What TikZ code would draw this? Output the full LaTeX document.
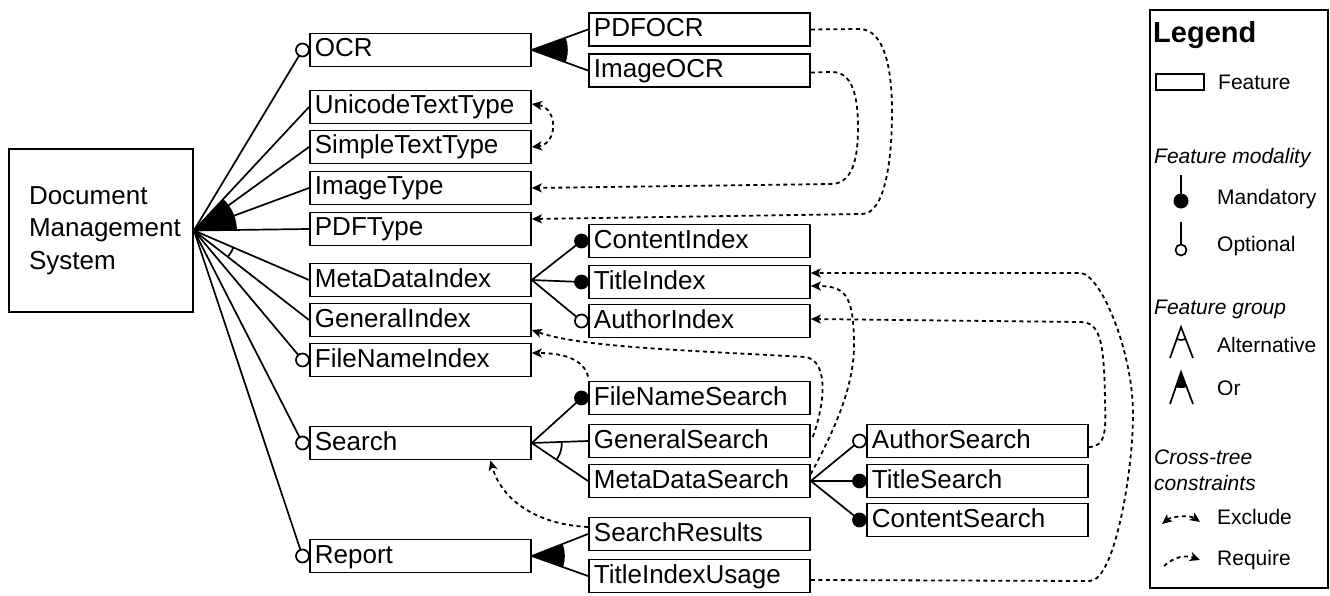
\documentclass[tikz,border=0pt]{standalone}
\usepackage{fontspec}
\setmainfont{Liberation Sans}
\usetikzlibrary{arrows.meta}

\tikzset{
  feat/.style={draw, line width=1.8pt, rectangle, anchor=west, text width=211pt,
    align=left, inner xsep=5pt, inner ysep=0pt, minimum height=33pt,
    text height=19pt, text depth=5pt, font=\fontsize{26}{31}\selectfont},
  edge/.style={line width=1.7pt},
  ctc/.style={line width=1.8pt, dash pattern=on 4pt off 3.5pt},
  tip/.tip={Stealth[length=10pt,width=9pt,inset=2.5pt]},
  req/.style={ctc, -tip},
  excl/.style={ctc, tip-tip},
  lgd/.style={anchor=west, inner sep=0pt, font=\fontsize{21}{26}\selectfont},
  lgdhead/.style={lgd, align=left, font=\itshape\fontsize{21}{26}\selectfont},
}

\begin{document}
\begin{tikzpicture}[x=1pt,y=-1pt]
  \useasboundingbox (0,0) rectangle (1330,596);
  %% The root feature
  \node[draw, line width=1.8pt, text width=164pt, inner xsep=10pt, minimum height=163pt,
        align=left, font=\fontsize{26}{32.5}\selectfont] (dms) at (101,230.5)
        {\hspace*{10pt}Document\\\hspace*{10pt}Management\\\hspace*{10pt}System};
  %% First level features
  \node[feat] (ocr)     at (309,50)  {OCR};
  \node[feat] (unicode) at (309,107) {UnicodeTextType};
  \node[feat] (simple)  at (309,147) {SimpleTextType};
  \node[feat] (imgtype) at (309,188) {ImageType};
  \node[feat] (pdftype) at (309,229) {PDFType};
  \node[feat] (metaidx) at (309,280) {MetaDataIndex};
  \node[feat] (genidx)  at (309,320) {GeneralIndex};
  \node[feat] (fnidx)   at (309,360) {FileNameIndex};
  \node[feat] (search)  at (309,443) {Search};
  \node[feat] (report)  at (309,556) {Report};
  %% Second level features
  \node[feat] (pdfocr)     at (588,29.5) {PDFOCR};
  \node[feat] (imgocr)     at (588,70.5) {ImageOCR};
  \node[feat] (contidx)    at (588,241)  {ContentIndex};
  \node[feat] (titleidx)   at (588,282)  {TitleIndex};
  \node[feat] (authidx)    at (588,321)  {AuthorIndex};
  \node[feat] (fnsearch)   at (588,398)  {FileNameSearch};
  \node[feat] (gensearch)  at (588,441)  {GeneralSearch};
  \node[feat] (metasearch) at (588,481)  {MetaDataSearch};
  \node[feat] (results)    at (588,534)  {SearchResults};
  \node[feat] (tiusage)    at (588,576)  {TitleIndexUsage};
  %% Third level features
  \node[feat] (authsearch)  at (866,441) {AuthorSearch};
  \node[feat] (titlesearch) at (866,481) {TitleSearch};
  \node[feat] (contsearch)  at (866,520) {ContentSearch};

  %% Invisibly defining the hooks of the modality circles
  \foreach \f in {ocr,fnidx,search,report,contidx,titleidx,authidx,
                  fnsearch,authsearch,titlesearch,contsearch}
    \path ([xshift=-6.5pt]\f.west) coordinate (\f-c);

  %% Edges from the root
  \foreach \f in {unicode,simple,imgtype,pdftype,metaidx,genidx}
    \draw[edge] (dms.east) -- (\f.west);
  \foreach \f in {ocr,fnidx,search,report}
    \draw[edge] (dms.east) -- (\f-c);
  % or group
  \begin{scope}
    \clip (dms.east) -- (unicode.west) -- (pdftype.west) -- cycle;
    \fill (dms.east) circle (43pt);
  \end{scope}
  % alternative group
  \begin{scope}
    \clip (dms.east) -- (metaidx.west) -- (genidx.west) -- cycle;
    \draw[edge] (dms.east) circle (43pt);
  \end{scope}

  %% Edges below OCR
  \draw[edge] (ocr.east) -- (pdfocr.west);
  \draw[edge] (ocr.east) -- (imgocr.west);
  \begin{scope}
    \clip (ocr.east) -- (pdfocr.west) -- (imgocr.west) -- cycle;
    \fill (ocr.east) circle (36pt);
  \end{scope}

  %% Edges below MetaDataIndex
  \foreach \f in {contidx,titleidx,authidx}
    \draw[edge] (metaidx.east) -- (\f-c);

  %% Edges below Search
  \draw[edge] (search.east) -- (fnsearch-c);
  \draw[edge] (search.east) -- (gensearch.west);
  \draw[edge] (search.east) -- (metasearch.west);
  \begin{scope}
    \clip (search.east) -- (gensearch.west) -- (metasearch.west) -- cycle;
    \draw[edge] (search.east) circle (30pt);
  \end{scope}

  %% Edges below Report
  \draw[edge] (report.east) -- (results.west);
  \draw[edge] (report.east) -- (tiusage.west);
  \begin{scope}
    \clip (report.east) -- (results.west) -- (tiusage.west) -- cycle;
    \fill (report.east) circle (33pt);
  \end{scope}

  %% Edges below MetaDataSearch
  \foreach \f in {authsearch,titlesearch,contsearch}
    \draw[edge] (metasearch.east) -- (\f-c);

  %% Modality circles
  \foreach \f in {ocr,fnidx,search,report,authidx,authsearch}
    \filldraw[edge, fill=white] (\f-c) circle (6.5pt);
  \foreach \f in {contidx,titleidx,fnsearch,titlesearch,contsearch}
    \filldraw[edge] (\f-c) circle (6.5pt);

  %% Cross-tree constraints
  \draw[excl] ([yshift=3pt]unicode.east) .. controls (558,108) and (558,144) .. (simple.east);
  \draw[req] ([yshift=-2pt]imgocr.east) -- (832,72) .. controls (852,72) and (858,95) .. (858,128)
        .. controls (858,160) and (852,183) .. (832,184) -- (imgtype.east);
  \draw[req] (pdfocr.east) -- (860,29) .. controls (885,30) and (892,70) .. (892,112)
        .. controls (892,160) and (885,214) .. (862,214) -- ([yshift=10pt]pdftype.east);
  \draw[req] ([xshift=2pt,yshift=4pt]gensearch.east) .. controls (826,400) and (828,360) .. (805,357)
        .. controls (680,350) and (580,347) .. ([yshift=-10pt]genidx.east);
  \draw[req] ([yshift=4pt]fnsearch.north west) .. controls (584,360) and (565,353)
        .. ([yshift=7pt]fnidx.east);
  \draw[req] ([yshift=7pt]metasearch.east) .. controls (840,420) and (855,380) .. (854,340)
        .. controls (853,295) and (845,286) .. ([yshift=-4pt]titleidx.east);
  \draw[req] ([yshift=-6pt]authsearch.east) .. controls (1106,447) and (1106,430) .. (1105,400)
        .. controls (1104,340) and (1100,322) .. (1080,322) -- ([yshift=2pt]authidx.east);
  \draw[req] ([yshift=-4pt]tiusage.east) -- (1090,581) .. controls (1115,580) and (1133,470) .. (1133,415)
        .. controls (1133,350) and (1100,273) .. (1080,273) -- ([yshift=9pt]titleidx.east);
  \draw[req] ([yshift=7pt]results.west) .. controls (530,524) and (500,495)
        .. ([xshift=70pt]search.south);

  %% Legend
  \draw[line width=1.8pt] (1150,10) rectangle (1328,588);
  \node[anchor=west, inner sep=0pt, font=\bfseries\fontsize{29}{35}\selectfont]
        (lgd-title) at (1153,35) {Legend};
  \draw[line width=1.7pt] (1156,74) rectangle (1204,90);
  \node[lgd] (lgd-feat) at (1218,82) {Feature};
  % modality
  \node[lgdhead] (lgd-mod) at (1154,158) {Feature modality};
  \draw[edge] (1181,175) -- (1181,200);
  \fill (1181,201) circle (7.5pt);
  \node[lgd] (lgd-mand) at (1217,199) {Mandatory};
  \draw[edge] (1181,222) -- (1181,250);
  \filldraw[edge, fill=white] (1181,250) circle (5.5pt);
  \node[lgd] (lgd-opt) at (1217,246) {Optional};
  % groups
  \node[lgdhead] (lgd-grp) at (1154,309) {Feature group};
  \draw[edge] (1170,358) -- (1181,327) -- (1193,358);
  \begin{scope}
    \clip (1181,327) -- (1170,358) -- (1193,358) -- cycle;
    \draw[edge] (1181,327) circle (13pt);
  \end{scope}
  \node[lgd] (lgd-alt) at (1217,345) {Alternative};
  \draw[edge] (1170,404) -- (1181,372) -- (1193,404);
  \begin{scope}
    \clip (1181,372) -- (1170,404) -- (1193,404) -- cycle;
    \fill (1181,372) circle (16pt);
  \end{scope}
  \node[lgd] (lgd-or) at (1217,388) {Or};
  % constraints
  \node[lgdhead] (lgd-ctc) at (1154,470) {Cross-tree\\constraints};
  \draw[excl] (1162,524) .. controls (1172,516) and (1190,515) .. (1200,522);
  \node[lgd] (lgd-excl) at (1217,517) {Exclude};
  \draw[req] (1164,566) .. controls (1175,556) and (1186,555) .. (1200,560);
  \node[lgd] (lgd-req) at (1217,560) {Require};
\end{tikzpicture}
\end{document}
